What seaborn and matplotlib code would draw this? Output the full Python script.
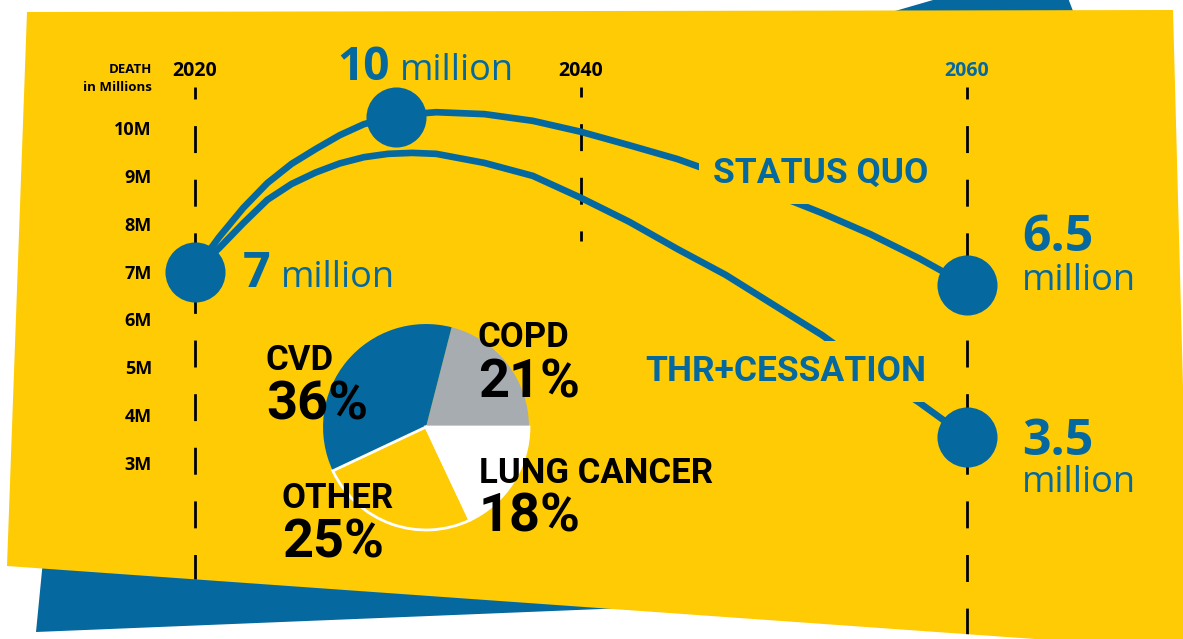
import pandas as pd
import matplotlib
import matplotlib.pyplot as plt
import seaborn as sns
from matplotlib.patches import Polygon

sns.set_theme(style='white')
plt.rcParams['font.family'] = ['Open Sans', 'DejaVu Sans']
plt.rcParams['lines.scale_dashes'] = False

YELLOW = '#FECB05'
BLUE = '#05689F'
GREY = '#A6ACB0'

# projected deaths (millions)
years = [2020, 2021.25, 2022.5, 2023.75, 2025, 2026.25, 2027.5, 2028.75,
         2030, 2031.25, 2032.5, 2035, 2037.5, 2040, 2042.5, 2045, 2047.5,
         2050, 2052.5, 2055, 2057.5, 2060]
status_quo = [7.03, 7.72, 8.33, 8.85, 9.25, 9.56, 9.85, 10.08,
              10.21, 10.29, 10.33, 10.29, 10.15, 9.92, 9.64, 9.35, 8.99,
              8.62, 8.22, 7.78, 7.28, 6.72]
thr_cessation = [7.03, 7.49, 8.01, 8.50, 8.83, 9.07, 9.26, 9.39,
                 9.46, 9.48, 9.46, 9.27, 9.00, 8.54, 8.04, 7.47, 6.93,
                 6.30, 5.67, 4.94, 4.27, 3.54]
series_names = ['STATUS QUO', 'THR+CESSATION']

# highlighted points
key_years = [2020, 2030.4, 2060, 2060]
key_values = [7.0, 10.23, 6.72, 3.54]
key_labels = ['7', '10', '6.5', '3.5']

y_ticks = [10, 9, 8, 7, 6, 5, 4, 3]
y_tick_labels = ['10M', '9M', '8M', '7M', '6M', '5M', '4M', '3M']
x_ticks = [2020, 2040, 2060]
x_tick_labels = ['2020', '2040', '2060']

# causes of death
pie_labels = ['COPD', 'CVD', 'OTHER', 'LUNG CANCER']
pie_shares = [21, 36, 25, 18]
pie_colors = [GREY, BLUE, YELLOW, 'white']

df = pd.DataFrame({
    'year': years * 2,
    'deaths': status_quo + thr_cessation,
    'scenario': [series_names[0]] * len(years) + [series_names[1]] * len(years),
})

W, H = 1183, 639
fig = plt.figure(figsize=(W / 100, H / 100), dpi=100)

# background paper shapes, in pixel units
ax_bg = fig.add_axes([0, 0, 1, 1])
ax_bg.set_xlim(0, W)
ax_bg.set_ylim(H, 0)
ax_bg.axis('off')
ax_bg.add_patch(Polygon([(895, 11), (940, -2), (1068, -2), (1073, 11)],
                        closed=True, fc=BLUE, ec='none'))
ax_bg.add_patch(Polygon([(45, 540), (36, 632), (700, 605), (700, 540)],
                        closed=True, fc=BLUE, ec='none'))
paper = Polygon([(27, 12), (1173, 10), (1190, 650), (7, 566)],
                closed=True, fc=YELLOW, ec='none')
ax_bg.add_patch(paper)
px = ax_bg.transData

# main chart
ax = fig.add_axes([0, 0, 1, 1])
ax.set_facecolor('none')
for s in ax.spines.values():
    s.set_visible(False)

for yr, bottom, off in zip(x_ticks, [0.0, 1 - 241 / H, 0.0], [10.8, 12.2, 10.8]):
    ln = ax.axvline(yr, ymin=1 - 87 / H, ymax=bottom, color='black', lw=2,
                    linestyle=(off, (19.4, 19.2)), zorder=1)
    ln.set_clip_path(paper)

sns.lineplot(data=df, x='year', y='deaths', hue='scenario',
             palette=[BLUE, BLUE], linewidth=4.8, estimator=None, sort=False,
             legend=False, ax=ax, zorder=2)
for line in ax.get_lines()[len(x_ticks):]:
    line.set_solid_joinstyle('round')
sns.scatterplot(x=key_years, y=key_values, s=1870, color=BLUE, linewidth=0,
                ax=ax, zorder=5)

ax.set_xlim(2020 - 195 / 19.3, 2020 + (W - 195) / 19.3)
ax.set_ylim(3 - (H - 463) / 47.857, 10 + 128 / 47.857)
ax.set_xlabel('')
ax.set_ylabel('')

ax.set_yticks(y_ticks, labels=y_tick_labels)
ax.tick_params(axis='y', length=0, pad=-109.4, labelsize=13, labelcolor='black')
ax.xaxis.tick_top()
ax.set_xticks(x_ticks, labels=x_tick_labels)
ax.tick_params(axis='x', length=0, pad=-58, labelsize=14, labelcolor='black')
for t in ax.get_yticklabels() + ax.get_xticklabels():
    t.set_fontweight('bold')
ax.get_xticklabels()[2].set_color(BLUE)

ax.text(152, 73, 'DEATH', transform=px, ha='right', va='baseline',
        fontsize=9.5, fontweight='bold', color='black')
ax.text(152, 91, 'in Millions', transform=px, ha='right', va='baseline',
        fontsize=9.5, fontweight='bold', color='black')

# series names sit on yellow patches that break the curves
box = dict(boxstyle='square,pad=0.4', fc=YELLOW, ec='none')
ax.text(713, 183, series_names[0], transform=px, ha='left', va='baseline',
        fontsize=25.5, fontweight='bold', color=BLUE, family='Roboto',
        bbox=box, zorder=3)
ax.text(645, 381, series_names[1], transform=px, ha='left', va='baseline',
        fontsize=25.5, fontweight='bold', color=BLUE, family='Roboto',
        bbox=box, zorder=3)

# value call-outs
callouts = [((243, 287), (281, 287), 35), ((337, 80), (400, 80), 33),
            ((1022, 251), (1022, 290), 36), ((1022, 455), (1022, 492), 36)]
for lab, (p_big, p_small, fs) in zip(key_labels, callouts):
    ax.text(*p_big, lab, transform=px, ha='left', va='baseline',
            fontsize=fs, fontweight='bold', color=BLUE)
    ax.text(*p_small, 'million', transform=px, ha='left', va='baseline',
            fontsize=26, color=BLUE)

# pie of causes
cx, cy, r = 426, 427, 104
ax_pie = fig.add_axes([(cx - r) / W, 1 - (cy + r) / H, 2 * r / W, 2 * r / H])
wedges, _ = ax_pie.pie(pie_shares, colors=pie_colors, startangle=0,
                       counterclock=True, radius=1)
for w, c in zip(wedges, pie_colors):
    if c in (YELLOW, 'white'):
        w.set_edgecolor('white')
        w.set_linewidth(2)
    else:
        w.set_edgecolor('none')
ax_pie.set_xlim(-1.01, 1.01)
ax_pie.set_ylim(-1.01, 1.01)
ax_pie.axis('off')

pie_pos = {'COPD': (478, 347, 397), 'CVD': (266, 370, 419),
           'OTHER': (282, 508, 558), 'LUNG CANCER': (479, 483, 532)}
for lab, share in zip(pie_labels, pie_shares):
    x, y1, y2 = pie_pos[lab]
    ax_pie.text(x, y1, lab, transform=px, ha='left', va='baseline',
                fontsize=25, fontweight='bold', color='black',
                family='Roboto', clip_on=False)
    ax_pie.text(x, y2, f'{share}%', transform=px, ha='left', va='baseline',
                fontsize=39, fontweight='bold', color='black',
                family='Roboto', clip_on=False)

plt.savefig('out.png', dpi=100)
